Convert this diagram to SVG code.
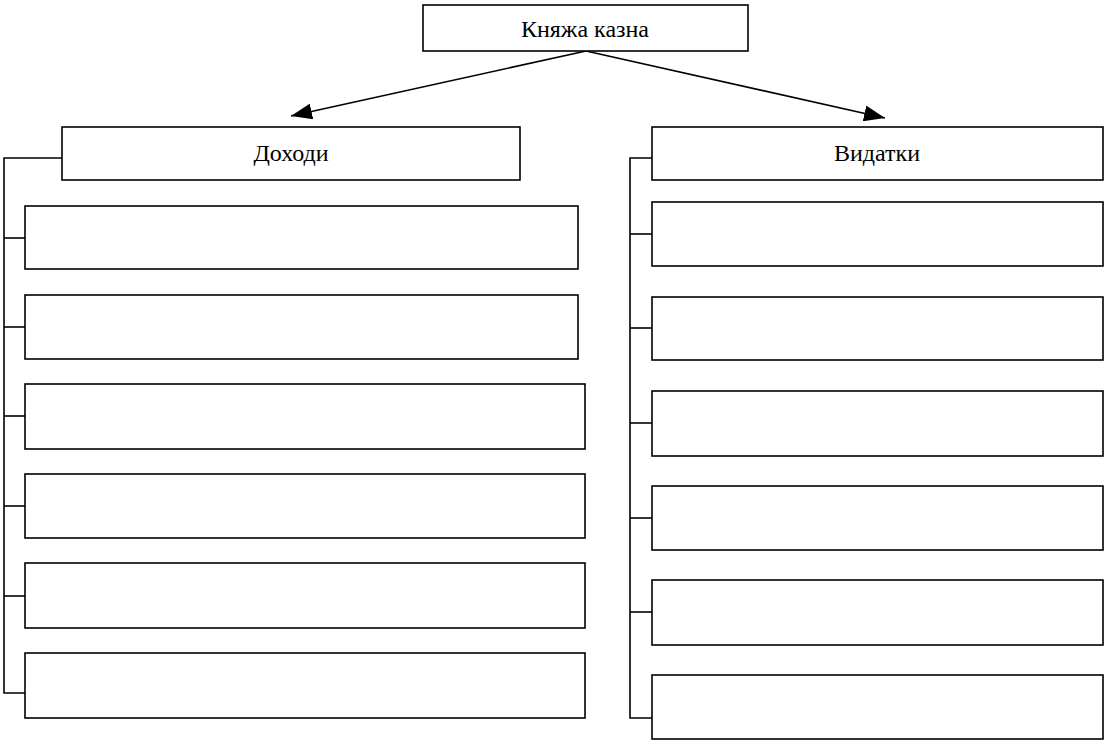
<svg xmlns="http://www.w3.org/2000/svg" width="1106" height="742" viewBox="0 0 1106 742">
<style>
.box{fill:#fff;stroke:#000;stroke-width:1.6}
.ln{fill:none;stroke:#000;stroke-width:1.6}
.t{font-family:"Liberation Serif","Times New Roman",serif;font-size:24px;fill:#000;text-anchor:middle}
</style>
<defs>
<marker id="ah" viewBox="0 0 21 16" refX="21" refY="8" markerWidth="21" markerHeight="16" markerUnits="userSpaceOnUse" orient="auto">
<polygon points="0,0 21,8 0,16" fill="#000"/>
</marker>
</defs>
<rect width="1106" height="742" fill="#fff"/>
<g id="connectors">
<line class="ln" x1="586" y1="51" x2="291" y2="116" marker-end="url(#ah)"/>
<line class="ln" x1="586" y1="51" x2="885" y2="118" marker-end="url(#ah)"/>
<polyline class="ln" points="62,158 4,158 4,693 25,693"/>
<line class="ln" x1="4" y1="238" x2="25" y2="238"/>
<line class="ln" x1="4" y1="327" x2="25" y2="327"/>
<line class="ln" x1="4" y1="416" x2="25" y2="416"/>
<line class="ln" x1="4" y1="506" x2="25" y2="506"/>
<line class="ln" x1="4" y1="596" x2="25" y2="596"/>
<polyline class="ln" points="652,158 630,158 630,718 652,718"/>
<line class="ln" x1="630" y1="234" x2="652" y2="234"/>
<line class="ln" x1="630" y1="328" x2="652" y2="328"/>
<line class="ln" x1="630" y1="423" x2="652" y2="423"/>
<line class="ln" x1="630" y1="518" x2="652" y2="518"/>
<line class="ln" x1="630" y1="612" x2="652" y2="612"/>
</g>
<g id="root"><rect class="box" x="423" y="5" width="325" height="46"/><text class="t" x="585" y="37">Княжа казна</text></g>
<g id="income"><rect class="box" x="62" y="127" width="458" height="53"/><text class="t" x="291" y="161">Доходи</text></g>
<g id="expenses"><rect class="box" x="652" y="127" width="451" height="53"/><text class="t" x="877" y="161">Видатки</text></g>
<g id="income-1"><rect class="box" x="25" y="206" width="553" height="63"/></g>
<g id="income-2"><rect class="box" x="25" y="295" width="553" height="64"/></g>
<g id="income-3"><rect class="box" x="25" y="384" width="560" height="65"/></g>
<g id="income-4"><rect class="box" x="25" y="474" width="560" height="64"/></g>
<g id="income-5"><rect class="box" x="25" y="563" width="560" height="65"/></g>
<g id="income-6"><rect class="box" x="25" y="653" width="560" height="65"/></g>
<g id="expense-1"><rect class="box" x="652" y="202" width="451" height="64"/></g>
<g id="expense-2"><rect class="box" x="652" y="297" width="451" height="63"/></g>
<g id="expense-3"><rect class="box" x="652" y="391" width="451" height="65"/></g>
<g id="expense-4"><rect class="box" x="652" y="486" width="451" height="64"/></g>
<g id="expense-5"><rect class="box" x="652" y="580" width="451" height="65"/></g>
<g id="expense-6"><rect class="box" x="652" y="675" width="451" height="64"/></g>
</svg>
